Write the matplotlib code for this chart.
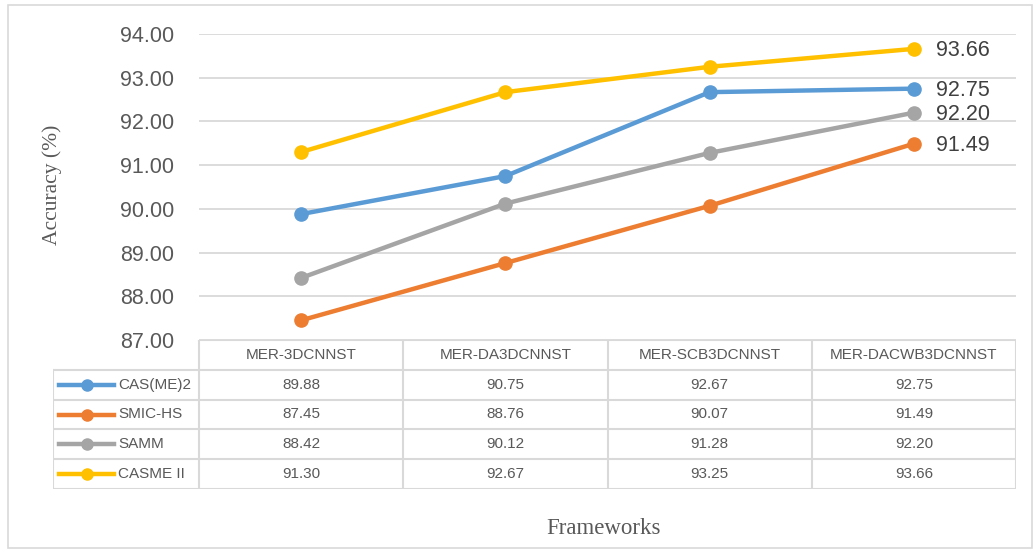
import matplotlib
matplotlib.use('Agg')
import matplotlib.pyplot as plt
from matplotlib.patches import Rectangle

frameworks = ['MER-3DCNNST', 'MER-DA3DCNNST', 'MER-SCB3DCNNST', 'MER-DACWB3DCNNST']
series_names = ['CAS(ME)2', 'SMIC-HS', 'SAMM', 'CASME II']
cas_me2 = [89.88, 90.75, 92.67, 92.75]
smic_hs = [87.45, 88.76, 90.07, 91.49]
samm = [88.42, 90.12, 91.28, 92.20]
casme2 = [91.30, 92.67, 93.25, 93.66]
colors = ['#5B9BD5', '#ED7D31', '#A5A5A5', '#FFC000']
yticks = [87, 88, 89, 90, 91, 92, 93, 94]

all_series = [cas_me2, smic_hs, samm, casme2]

W, H = 1034, 550
fig = plt.figure(figsize=(W / 100, H / 100), dpi=100)

def px_axes(x0, y0, x1, y1):
    # pixel box (top-left origin) -> figure axes
    return fig.add_axes([x0 / W, 1 - y1 / H, (x1 - x0) / W, (y1 - y0) / H])

txt = '#595959'
grid = '#D9D9D9'

# outer chart border
fig.patches.append(Rectangle((8 / W, 2 / H), (W - 10) / W, (H - 7) / H,
                             transform=fig.transFigure, fill=False,
                             edgecolor='#D9D9D9', lw=1.2))

ax = px_axes(199, 34, 1016, 340)
x = range(len(frameworks))
for s, c in zip(all_series, colors):
    ax.plot(x, s, color=c, lw=3.2, marker='o', markersize=9.5, zorder=3,
            solid_capstyle='round')
for s in all_series:
    ax.annotate('%.2f' % s[-1], (3, s[-1]), xytext=(16, -1), textcoords='offset points',
                va='center', ha='left', fontsize=15.5, color='#404040',
                family='Liberation Sans')
ax.set_xlim(-0.5, 3.5)
ax.set_ylim(87, 94)
ax.set_yticks(yticks)
ax.set_yticklabels(['%.2f' % v for v in yticks], fontsize=15.5, color=txt,
                   family='Liberation Sans')
ax.tick_params(axis='y', length=0, pad=18)
ax.set_xticks([])
for sp in ax.spines.values():
    sp.set_visible(False)
ax.yaxis.grid(True, color=grid, lw=1.3)
ax.set_axisbelow(True)

# data table under the plot
leg_w = 146 / 204.25
tx = px_axes(53, 340, 1016, 489)
tx.set_xlim(-0.5 - leg_w, 3.5)
tx.set_ylim(5, 0)
tx.axis('off')
lc = '#D9D9D9'
tx.plot([-0.5, 3.5], [0, 0], color=lc, lw=1.5)
for r in range(1, 6):
    tx.plot([-0.5 - leg_w, 3.5], [r, r], color=lc, lw=1.5)
for i in range(5):
    tx.plot([i - 0.5, i - 0.5], [0, 5], color=lc, lw=1.5)
tx.plot([-0.5 - leg_w, -0.5 - leg_w], [1, 5], color=lc, lw=1.5)
tfont = dict(family='Liberation Sans', fontsize=11, color=txt)
for i, f in enumerate(frameworks):
    tx.text(i, 0.5, f, ha='center', va='center', **tfont)
for r, (name, s, c) in enumerate(zip(series_names, all_series, colors)):
    yy = r + 1.5
    tx.plot([-0.5 - leg_w + 0.03, -0.5 - leg_w + 0.3], [yy, yy], color=c, lw=3.2)
    tx.plot([-0.5 - leg_w + 0.165], [yy], 'o', color=c, markersize=8)
    tx.text(-0.5 - leg_w + 0.32, yy, name, ha='left', va='center', **tfont)
    for i, v in enumerate(s):
        tx.text(i, yy, '%.2f' % v, ha='center', va='center', **tfont)

fig.text(52 / W, 1 - 185 / H, 'Accuracy (%)', rotation=90, ha='center', va='center',
         family='Liberation Serif', fontsize=15.5, color=txt)
fig.text(604 / W, 1 - 528 / H, 'Frameworks', ha='center', va='center',
         family='Liberation Serif', fontsize=16.5, color=txt)

plt.savefig('out.png', dpi=100)
